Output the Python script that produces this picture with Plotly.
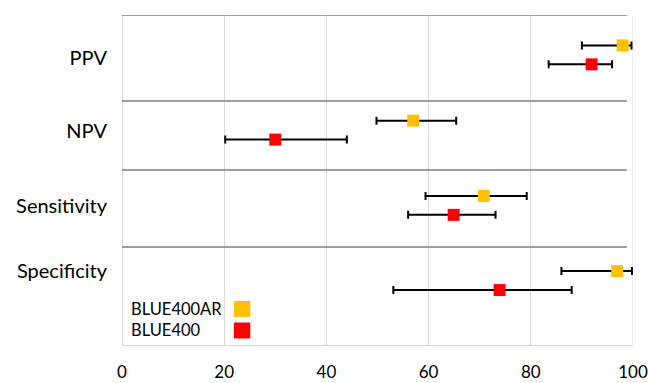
import plotly.graph_objects as go

# ---- data ----
categories = ["PPV", "NPV", "Sensitivity", "Specificity"]
ar_values = [98.0, 57.0, 70.8, 96.9]
ar_low = [90.0, 49.8, 59.4, 86.0]
ar_high = [99.7, 65.4, 79.2, 99.8]
b4_values = [91.9, 30.0, 64.9, 73.9]
b4_low = [83.5, 20.2, 56.0, 53.1]
b4_high = [95.9, 44.0, 73.1, 88.0]
series_names = ["BLUE400AR", "BLUE400"]
x_ticks = [0, 20, 40, 60, 80, 100]

# ---- layout constants ----
ORANGE = "#FFC000"
RED = "#FF0000"
FONT = "Lato"
row_offset = 0.126
label_pos = [0.045, 1.01, 2.008, 2.876]
separators = [-0.530, 0.613, 1.530, 2.553]
y_range = [3.856, -0.530]
legend_y = [3.377, 3.663]

idx = list(range(len(categories)))

fig = go.Figure()

def add_series(vals, lo, hi, color, sign, name):
    fig.add_trace(go.Scatter(
        x=vals,
        y=[i + sign * row_offset for i in idx],
        mode="markers",
        name=name,
        marker=dict(symbol="square", size=12, color=color),
        error_x=dict(type="data", symmetric=False,
                     array=[h - v for h, v in zip(hi, vals)],
                     arrayminus=[v - l for v, l in zip(vals, lo)],
                     color="#000000", thickness=2, width=4),
        showlegend=False,
    ))

add_series(b4_values, b4_low, b4_high, RED, +1, series_names[1])
add_series(ar_values, ar_low, ar_high, ORANGE, -1, series_names[0])

shapes = []
# right edge gridline at 100
shapes.append(dict(type="line", xref="x", yref="paper", x0=100, x1=100, y0=0, y1=1,
                   line=dict(color="#d9d9d9", width=1), layer="below"))
for s in separators:
    shapes.append(dict(type="line", xref="x", yref="y", x0=-0.4, x1=98.8, y0=s, y1=s,
                       line=dict(color="#7f7f7f", width=1.5), layer="above"))
# custom legend: text then coloured square
for name, color, ly in zip(series_names, [ORANGE, RED], legend_y):
    shapes.append(dict(type="rect", xref="x", yref="y", x0=21.9, x1=25.1,
                       y0=ly - 0.106, y1=ly + 0.106, fillcolor=color,
                       line=dict(width=0)))

annotations = []
for name, ly in zip(series_names, legend_y):
    annotations.append(dict(x=1.3, y=ly, xref="x", yref="y", text=name,
                            showarrow=False, xanchor="left", yanchor="middle",
                            font=dict(family=FONT, size=16.5, color="#000000")))

fig.update_layout(
    width=660, height=383,
    margin=dict(l=114, r=35, t=7, b=46),
    paper_bgcolor="white", plot_bgcolor="white",
    shapes=shapes, annotations=annotations,
    xaxis=dict(range=[0, 100], tickvals=x_ticks, ticktext=[str(t) for t in x_ticks],
               showgrid=True, gridcolor="#d9d9d9", gridwidth=1,
               zeroline=True, zerolinecolor="#d9d9d9", zerolinewidth=1,
               showline=True, linecolor="#d9d9d9", linewidth=1, mirror=False,
               ticks="", ticklen=0, automargin=False, ticklabelstandoff=12,
               tickfont=dict(family=FONT, size=17, color="#000000")),
    yaxis=dict(range=y_range, tickvals=label_pos, ticktext=categories,
               showgrid=False, zeroline=False, showline=False, ticks="",
               ticklabelstandoff=14, automargin=False,
               tickfont=dict(family=FONT, size=20, color="#000000")),
)

fig.write_html("out.html")
